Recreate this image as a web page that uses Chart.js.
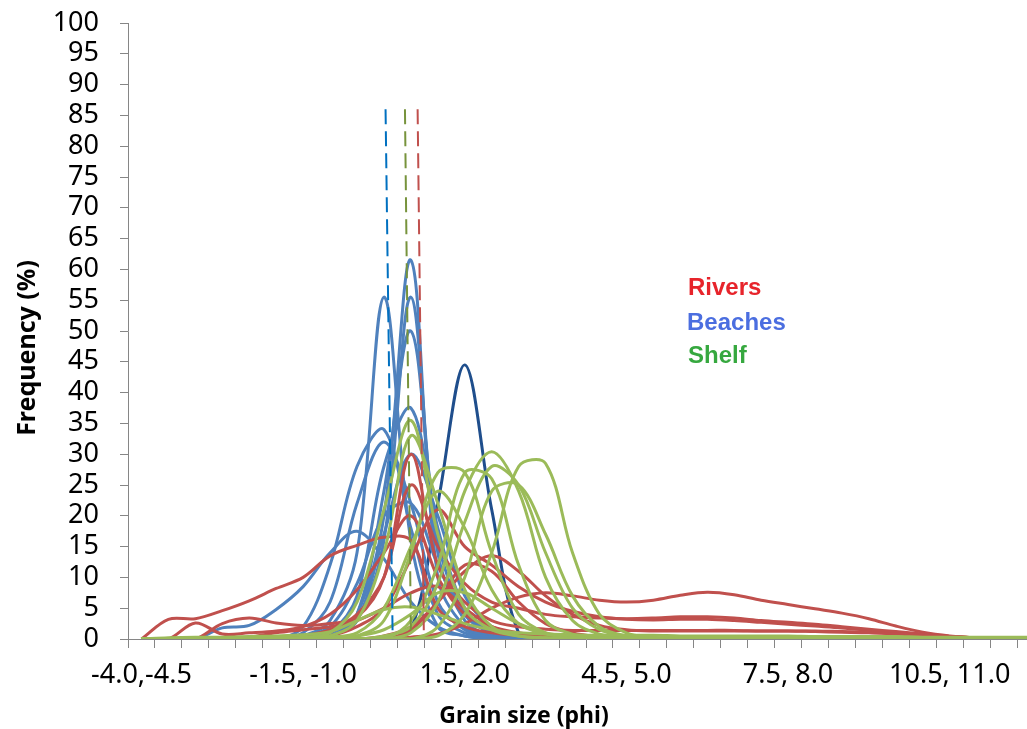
<!DOCTYPE html>
<html>
<head>
<meta charset="utf-8">
<script src="https://cdn.jsdelivr.net/npm/chart.js@4.4.1/dist/chart.umd.min.js"></script>
<style>
  body { margin: 0; overflow: hidden; background: #fff; }
</style>
</head>
<body>
<canvas id="grainChart" width="1046" height="729"></canvas>
<script>
// grain size bins (phi), one label shown every 6 bins
const categories = [
  "-4.0,-4.5", "-4.0, -3.5", "-3.5, -3.0", "-3.0, -2.5", "-2.5, -2.0", "-2.0, -1.5",
  "-1.5, -1.0", "-1.0, -0.5", "-0.5, 0.0", "0.0, 0.5", "0.5, 1.0", "1.0, 1.5",
  "1.5, 2.0", "2.0, 2.5", "2.5, 3.0", "3.0, 3.5", "3.5, 4.0", "4.0, 4.5",
  "4.5, 5.0", "5.0, 5.5", "5.5, 6.0", "6.0, 6.5", "6.5, 7.0", "7.0, 7.5",
  "7.5, 8.0", "8.0, 8.5", "8.5, 9.0", "9.0, 9.5", "9.5, 10.0", "10.0, 10.5",
  "10.5, 11.0", "11.0, 11.5", "11.5, 12.0", "12.0, 12.5"
];
const labelEvery = 6;
const yTicks = [0, 100, 5]; // min, max, step

// Beaches
const beach1 = [0, 0, 0, 1.8, 2.2, 4.8, 8.5, 14, 17.5, 13, 6, 2,
  0.5, 0, 0, 0, 0, 0, 0, 0, 0, 0, 0, 0,
  0, 0, 0, 0, 0, 0, 0, 0, 0, 0];
const beach2 = [0, 0, 0, 0, 0, 0, 2, 12, 28, 34, 18, 4,
  1, 0.3, 0, 0, 0, 0, 0, 0, 0, 0, 0, 0,
  0, 0, 0, 0, 0, 0, 0, 0, 0, 0];
const beach3 = [0, 0, 0, 0, 0, 0, 1, 6, 22, 32, 22, 6,
  1.5, 0.4, 0, 0, 0, 0, 0, 0, 0, 0, 0, 0,
  0, 0, 0, 0, 0, 0, 0, 0, 0, 0];
const beach4 = [0, 0, 0, 0, 0, 0, 0.5, 3, 14, 55.5, 16, 2,
  0.5, 0, 0, 0, 0, 0, 0, 0, 0, 0, 0, 0,
  0, 0, 0, 0, 0, 0, 0, 0, 0, 0];
const beach5 = [0, 0, 0, 0, 0, 0, 0, 1, 4, 20, 61.5, 10,
  2, 0.5, 0, 0, 0, 0, 0, 0, 0, 0, 0, 0,
  0, 0, 0, 0, 0, 0, 0, 0, 0, 0];
const beach6 = [0, 0, 0, 0, 0, 0, 0, 0.5, 3, 16, 55.5, 14,
  3, 0.5, 0, 0, 0, 0, 0, 0, 0, 0, 0, 0,
  0, 0, 0, 0, 0, 0, 0, 0, 0, 0];
const beach7 = [0, 0, 0, 0, 0, 0, 0, 0.5, 4, 24, 50, 16,
  4, 1, 0.2, 0, 0, 0, 0, 0, 0, 0, 0, 0,
  0, 0, 0, 0, 0, 0, 0, 0, 0, 0];
const beach8 = [0, 0, 0, 0, 0, 0, 0, 1, 7, 28, 37.5, 18,
  5, 1, 0.3, 0, 0, 0, 0, 0, 0, 0, 0, 0,
  0, 0, 0, 0, 0, 0, 0, 0, 0, 0];
const beach9 = [0, 0, 0, 0, 0, 0, 0, 0.5, 3, 17, 30, 20,
  7, 2, 0.5, 0, 0, 0, 0, 0, 0, 0, 0, 0,
  0, 0, 0, 0, 0, 0, 0, 0, 0, 0];
const beach10 = [0, 0, 0, 0, 0, 0, 0.5, 2, 9, 20, 22, 12,
  4, 1, 0.2, 0, 0, 0, 0, 0, 0, 0, 0, 0,
  0, 0, 0, 0, 0, 0, 0, 0, 0, 0];
const beach11 = [0, 0, 0, 0, 0, 0, 0, 0, 0, 0, 1.5, 22,
  44.5, 21, 1, 0, 0, 0, 0, 0, 0, 0, 0, 0,
  0, 0, 0, 0, 0, 0, 0, 0, 0, 0];

// Rivers
const river1 = [0, 3.2, 3.3, 4.6, 6.2, 8.2, 10, 13.5, 15.2, 16.5, 16, 5,
  2, 1, 0.6, 0.4, 0.3, 0.2, 0.2, 0.1, 0.1, 0, 0, 0,
  0, 0, 0, 0, 0, 0, 0, 0, 0, 0];
const river2 = [0, 0, 2.6, 0.8, 1, 1.3, 2, 4, 8, 14, 20, 10,
  4, 2, 1, 0.5, 0.2, 0, 0, 0, 0, 0, 0, 0,
  0, 0, 0, 0, 0, 0, 0, 0, 0, 0];
const river3 = [0, 0, 0, 2.5, 3.4, 2.6, 2.2, 2.5, 3.5, 10, 30, 12,
  6, 3, 2, 1.6, 1.4, 1.4, 1.4, 1.4, 1.4, 1.4, 1.4, 1.3,
  1.3, 1.2, 1.1, 1, 0.8, 0.6, 0.4, 0.2, 0.1, 0];
const river4 = [0, 0, 0, 0, 0, 0, 0.5, 1.5, 4, 10, 25, 15,
  9, 6, 5, 4, 3.6, 3.4, 3.3, 3.4, 3.6, 3.6, 3.4, 3.0,
  2.7, 2.4, 2.0, 1.6, 1.2, 0.8, 0.4, 0.2, 0.1, 0];
const river5 = [0, 0, 0, 0, 0, 0, 0, 0.5, 2, 5, 13, 21,
  15, 12, 8.5, 6, 4.5, 3.6, 3.2, 3.1, 3.2, 3.2, 3.0, 2.7,
  2.4, 2.1, 1.8, 1.4, 1.0, 0.7, 0.4, 0.2, 0.1, 0];
const river6 = [0, 0, 0, 0, 0, 0, 0, 0, 0, 0.5, 2, 6,
  11, 13.5, 11, 7, 4, 2.2, 1.5, 1.3, 1.3, 1.3, 1.3, 1.3,
  1.3, 1.3, 1.2, 1.1, 0.9, 0.7, 0.4, 0.2, 0.1, 0];
const river7 = [0, 0, 0, 0, 0, 0, 0, 0, 0, 0, 0.3, 0.8,
  2.5, 5, 6.8, 7.5, 7, 6.3, 6, 6.3, 7.1, 7.6, 7.2, 6.3,
  5.6, 4.9, 4.2, 3.3, 2.1, 1.1, 0.5, 0.2, 0.1, 0];
const river8 = [0, 0, 0, 0, 0, 0, 0, 0, 0, 0, 1.5, 6,
  12, 11, 6, 2.5, 1, 0.4, 0.2, 0, 0, 0, 0, 0,
  0, 0, 0, 0, 0, 0, 0, 0, 0, 0];
const river9 = [0, 0, 0, 0, 0.3, 1, 1.5, 2, 3, 5, 7.5, 8.5,
  5, 2, 0.8, 0.3, 0, 0, 0, 0, 0, 0, 0, 0,
  0, 0, 0, 0, 0, 0, 0, 0, 0, 0];

// Shelf
const shelf1 = [0, 0.2, 0.3, 0.3, 0.4, 0.5, 0.7, 1.2, 3, 4.8, 5.2, 4,
  2.5, 1.5, 1, 0.8, 0.7, 0.6, 0.6, 0.6, 0.5, 0.5, 0.5, 0.5,
  0.5, 0.4, 0.4, 0.4, 0.4, 0.3, 0.3, 0.3, 0.3, 0.3];
const shelf2 = [0, 0, 0.1, 0.1, 0.1, 0.2, 0.3, 1, 6, 21, 35.5, 17,
  5, 1.5, 0.5, 0.2, 0.1, 0, 0, 0, 0, 0, 0, 0,
  0, 0, 0, 0, 0, 0, 0, 0, 0, 0];
const shelf3 = [0, 0, 0, 0, 0, 0.1, 0.2, 0.5, 3, 14, 33, 22,
  8, 2, 0.5, 0.2, 0, 0, 0, 0, 0, 0, 0, 0,
  0, 0, 0, 0, 0, 0, 0, 0, 0, 0];
const shelf4 = [0, 0, 0, 0, 0, 0, 0, 0.3, 1, 5, 15, 24,
  18, 8, 2.5, 0.8, 0.3, 0, 0, 0, 0, 0, 0, 0,
  0, 0, 0, 0, 0, 0, 0, 0, 0, 0];
const shelf5 = [0, 0, 0, 0, 0, 0, 0, 0, 0.5, 3, 14, 27,
  27, 14, 4, 1, 0.3, 0, 0, 0, 0, 0, 0, 0,
  0, 0, 0, 0, 0, 0, 0, 0, 0, 0];
const shelf6 = [0, 0, 0, 0, 0, 0, 0, 0, 0, 0.5, 2, 9,
  24, 30.4, 24, 10, 3, 0.8, 0.3, 0, 0, 0, 0, 0,
  0, 0, 0, 0, 0, 0, 0, 0, 0, 0];
const shelf7 = [0, 0, 0, 0, 0, 0, 0, 0, 0, 0, 1, 6,
  19, 28, 25, 14, 5, 1.5, 0.5, 0, 0, 0, 0, 0,
  0, 0, 0, 0, 0, 0, 0, 0, 0, 0];
const shelf8 = [0, 0, 0, 0, 0, 0, 0, 0, 0, 0, 0, 2,
  10, 24, 25, 17, 7, 2, 0.5, 0, 0, 0, 0, 0,
  0, 0, 0, 0, 0, 0, 0, 0, 0, 0];
const shelf9 = [0, 0, 0, 0, 0, 0, 0, 0, 0, 0, 0, 0.5,
  4, 14, 28, 28.5, 14, 4, 1, 0.3, 0, 0, 0, 0,
  0, 0, 0, 0, 0, 0, 0, 0, 0, 0];
const shelf10 = [0, 0, 0, 0, 0, 0, 0, 0, 0.5, 1.5, 4, 7.5,
  7.5, 5, 2.5, 1, 0.5, 0.2, 0, 0, 0, 0, 0, 0,
  0, 0, 0, 0, 0, 0, 0, 0, 0, 0];
const shelf11 = [0, 0, 0, 0, 0, 0, 0, 0, 0, 0, 3, 12,
  27, 26, 12, 3, 0.8, 0.2, 0, 0, 0, 0, 0, 0,
  0, 0, 0, 0, 0, 0, 0, 0, 0, 0];

// mean grain size lines (bin position top -> bottom)
const beachMeanX = [9.06, 9.32];
const shelfMeanX = [9.78, 10.0];
const riverMeanX = [10.25, 10.48];
const meanLineY = [86, 1.3];

const beaches = [beach1, beach2, beach3, beach4, beach5, beach6, beach7, beach8, beach9, beach10];
const rivers = [river1, river2, river3, river4, river5, river6, river7, river8, river9];
const shelves = [shelf1, shelf2, shelf3, shelf4, shelf5, shelf6, shelf7, shelf8, shelf9, shelf10, shelf11];

function curve(values, color, order) {
  return { data: values, borderColor: color, order: order };
}
function meanLine(xs, color) {
  return {
    xAxisID: "xm",
    data: xs.map((x, i) => ({ x: x, y: meanLineY[i] })),
    borderColor: color,
    borderWidth: 2,
    borderDash: [15, 7],
    tension: 0,
    order: 0
  };
}

const datasets = [];
beaches.forEach(v => datasets.push(curve(v, "#4F81BD", 3)));
datasets.push(curve(beach11, "#1F4E8C", 3));
rivers.forEach(v => datasets.push(curve(v, "#C0504D", 2)));
shelves.forEach(v => datasets.push(curve(v, "#9BBB59", 1)));
datasets.push(meanLine(beachMeanX, "#0070C0"));
datasets.push(meanLine(shelfMeanX, "#77933C"));
datasets.push(meanLine(riverMeanX, "#C0504D"));

// axis titles and group labels
const textPlugin = {
  id: "texts",
  afterDraw(chart) {
    const ctx = chart.ctx;
    ctx.save();
    ctx.fillStyle = "#000";
    ctx.font = "bold 23px 'Noto Sans'";
    ctx.textAlign = "center";
    ctx.textBaseline = "alphabetic";
    ctx.fillText("Grain size (phi)", 524, 723);

    ctx.translate(35, 348);
    ctx.rotate(-Math.PI / 2);
    ctx.font = "bold 25px 'Noto Sans'";
    ctx.fillText("Frequency (%)", 0, 0);
    ctx.restore();

    ctx.save();
    ctx.font = "bold 24px 'Liberation Sans'";
    ctx.textAlign = "left";
    ctx.fillStyle = "#E7242B";
    ctx.fillText("Rivers", 688, 295);
    ctx.fillStyle = "#4B6EE0";
    ctx.fillText("Beaches", 687, 330);
    ctx.fillStyle = "#36A83F";
    ctx.fillText("Shelf", 688, 363);
    ctx.restore();
  }
};

const axisColor = "#868686";
const tickFont = { family: "'Noto Sans'", size: 27 };

new Chart(document.getElementById("grainChart").getContext("2d"), {
  type: "line",
  data: { labels: categories, datasets: datasets },
  options: {
    responsive: false,
    animation: false,
    layout: { padding: { top: 23, right: 2, left: 0, bottom: 0 } },
    elements: {
      point: { radius: 0 },
      line: { borderWidth: 3, tension: 0.35, fill: false }
    },
    plugins: {
      legend: { display: false },
      tooltip: { enabled: false }
    },
    scales: {
      x: {
        offset: true,
        grid: { offset: true, drawOnChartArea: false, tickLength: 9, color: axisColor },
        border: { color: axisColor },
        ticks: {
          autoSkip: false,
          maxRotation: 0,
          minRotation: 0,
          padding: 11,
          color: "#000",
          font: tickFont,
          callback: (v, i) => (i % labelEvery === 0 ? categories[i] : "")
        },
        afterFit: s => { s.height = 90; s.paddingLeft = 0; s.paddingRight = 0; }
      },
      xm: {
        type: "linear",
        display: false,
        min: -0.5,
        max: categories.length - 0.5
      },
      y: {
        min: yTicks[0],
        max: yTicks[1],
        grid: { drawOnChartArea: false, tickLength: 8, color: axisColor },
        border: { color: axisColor },
        ticks: { stepSize: yTicks[2], autoSkip: false, padding: 21, color: "#000", font: tickFont },
        afterFit: s => { s.width = 128; s.paddingTop = 0; s.paddingBottom = 0; }
      }
    }
  },
  plugins: [textPlugin]
});
</script>
</body>
</html>
